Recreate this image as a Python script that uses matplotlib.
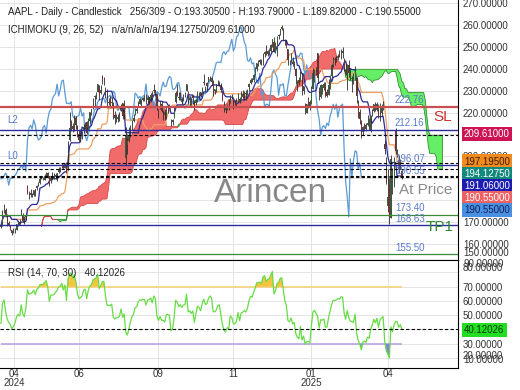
import numpy as np
import pandas as pd
import matplotlib
matplotlib.use('Agg')
import matplotlib.pyplot as plt
from matplotlib.ticker import FormatStrFormatter, FixedLocator

plt.rcParams['font.family'] = ['Liberation Sans', 'DejaVu Sans']

# AAPL daily bars, 2024-04-10 .. 2025-04-21 (one row per month)
opens = [
    168.8, 168.3, 174.3, 175.4, 171.8, 169.6, 168.0, 166.2, 165.5, 165.4, 166.5, 169.5, 169.9, 173.4, 173.3,
    169.6, 172.5, 186.6, 182.4, 183.5, 182.9, 182.6, 184.9, 185.4, 187.5, 187.9, 190.5, 189.5, 189.3, 191.1, 192.3, 191.0, 188.8, 191.5, 189.6, 190.8, 191.4,
    192.9, 194.6, 195.4, 195.7, 194.7, 196.9, 193.7, 207.4, 214.7, 213.9, 213.4, 217.6, 213.9, 210.4, 207.7, 209.2, 211.5, 214.7, 215.8,
    212.1, 216.2, 220.0, 221.7, 227.1, 227.9, 229.3, 231.4, 228.9, 236.5, 235.0, 229.5, 230.3, 224.8, 227.0, 224.4, 224.0, 218.9, 218.7, 217.0, 219.2, 221.4,
    224.4, 219.2, 199.1, 205.3, 206.9, 213.1, 212.1, 216.1, 219.0, 220.6, 224.6, 223.9, 225.7, 225.8, 226.5, 227.8, 225.7, 226.8, 226.0, 227.9, 230.1, 230.2,
    228.6, 221.7, 221.6, 224.0, 220.8, 218.9, 221.5, 222.5, 223.6, 216.5, 215.8, 217.6, 225.0, 230.0, 227.3, 228.6, 224.9, 227.3, 228.5, 230.0,
    229.5, 225.9, 225.1, 227.9, 224.5, 224.3, 225.2, 227.8, 229.3, 228.7, 233.6, 231.6, 233.4, 236.2, 234.5, 233.9, 234.1, 230.0, 229.7, 233.3, 233.1, 232.6, 229.3,
    221.0, 221.0, 221.8, 222.6, 224.6, 227.2, 225.0, 224.6, 224.0, 225.0, 226.4, 225.3, 227.0, 228.1, 228.9, 228.1, 231.5, 233.3, 234.5, 234.8,
    237.3, 239.8, 242.9, 244.0, 242.9, 241.8, 246.9, 248.0, 246.9, 247.8, 248.0, 250.1, 252.2, 247.5, 248.0, 254.8, 255.5, 258.2, 257.8, 252.2, 252.4,
    248.9, 243.4, 244.3, 243.0, 241.9, 240.0, 233.5, 234.8, 234.6, 237.4, 232.1, 224.0, 219.8, 224.7, 224.8, 224.0, 230.9, 234.1, 238.7, 247.2,
    230.0, 227.3, 228.5, 231.3, 232.6, 229.6, 228.2, 231.2, 236.9, 241.3, 244.2, 244.7, 244.9, 246.0, 244.9, 248.0, 244.3, 239.4, 237.0,
    241.8, 237.7, 235.4, 234.4, 235.1, 235.5, 223.8, 220.1, 216.0, 211.3, 213.3, 214.2, 214.2, 214.0, 211.6, 221.0, 220.8, 223.5, 221.4, 221.7, 217.0,
    219.8, 221.3, 205.5, 193.9, 177.2, 186.7, 172.0, 189.1, 186.1, 211.4, 201.9, 198.4, 197.2, 193.305,
]
highs = [
    169.1, 175.5, 178.4, 176.6, 173.8, 170.7, 168.6, 166.4, 167.3, 167.1, 169.3, 170.6, 171.3, 176.0, 174.0,
    172.7, 173.4, 187.0, 184.2, 184.9, 183.1, 184.7, 185.1, 187.1, 188.3, 190.7, 191.1, 190.8, 191.9, 192.7, 192.8, 191.0, 190.6, 193.0, 192.2, 192.2, 192.6,
    195.0, 195.3, 196.9, 196.5, 196.9, 197.3, 207.2, 220.2, 216.8, 215.2, 218.9, 218.6, 214.2, 211.9, 212.7, 211.4, 214.9, 215.7, 216.1,
    217.5, 220.4, 221.6, 226.5, 227.9, 229.4, 233.1, 232.4, 232.6, 237.2, 236.3, 231.5, 230.7, 226.8, 227.8, 226.9, 224.8, 220.9, 219.5, 219.3, 220.3, 223.8,
    224.5, 225.6, 213.5, 210.0, 213.6, 214.2, 216.8, 219.5, 221.9, 223.0, 225.4, 226.8, 226.0, 227.2, 228.0, 228.3, 228.2, 227.3, 228.9, 229.9, 232.9, 230.4,
    229.0, 221.8, 225.5, 225.2, 221.3, 221.5, 223.1, 223.6, 224.0, 217.2, 216.9, 222.7, 229.8, 233.1, 229.5, 229.4, 227.3, 228.5, 229.5, 233.0,
    229.7, 227.4, 226.8, 228.0, 225.7, 226.0, 229.8, 229.5, 229.4, 231.7, 237.5, 232.1, 233.9, 236.2, 236.9, 236.2, 235.1, 230.8, 233.2, 234.7, 234.3, 233.5, 229.8,
    225.4, 222.8, 224.0, 226.1, 227.9, 228.7, 225.7, 225.6, 226.7, 228.9, 226.9, 229.7, 230.2, 229.9, 230.2, 230.7, 233.3, 235.6, 235.7, 237.8,
    240.8, 242.8, 244.1, 244.5, 244.6, 247.2, 248.2, 250.8, 248.7, 249.3, 251.4, 253.8, 254.3, 252.0, 255.0, 255.7, 258.2, 260.1, 258.7, 253.5, 253.3,
    249.1, 244.2, 247.3, 245.6, 243.7, 240.2, 234.7, 236.1, 239.0, 238.0, 232.3, 224.4, 224.1, 227.0, 225.6, 232.2, 240.2, 239.9, 240.8, 247.2,
    231.8, 233.1, 232.7, 233.8, 234.0, 230.6, 235.2, 237.0, 242.3, 245.6, 245.2, 246.0, 246.8, 248.7, 248.9, 250.0, 245.0, 242.5, 242.1,
    244.0, 240.1, 236.6, 237.9, 241.4, 236.2, 225.8, 221.8, 216.8, 214.0, 215.2, 215.2, 218.8, 217.5, 218.8, 221.5, 224.1, 225.0, 225.0, 223.8, 224.5,
    223.7, 225.19, 207.5, 199.9, 194.2, 190.3, 200.6, 194.8, 199.5, 212.94, 203.5, 200.7, 198.8, 193.79,
]
lows = [
    167.1, 168.0, 174.2, 172.5, 168.3, 168.0, 166.6, 164.1, 164.8, 165.0, 166.2, 168.2, 169.2, 173.1, 170.0,
    169.1, 170.9, 182.7, 180.4, 181.3, 181.3, 182.1, 182.1, 184.7, 186.3, 187.4, 189.7, 189.2, 189.0, 190.9, 190.3, 186.6, 188.0, 189.1, 189.5, 189.9, 188.9,
    192.5, 193.0, 194.9, 194.2, 194.5, 192.2, 193.6, 206.9, 211.6, 211.3, 211.7, 212.7, 208.9, 207.1, 206.6, 207.9, 210.6, 212.4, 210.3,
    211.9, 215.1, 219.0, 221.7, 223.1, 226.4, 229.3, 225.8, 228.7, 233.1, 232.6, 226.6, 222.3, 223.3, 223.1, 222.7, 217.1, 214.6, 215.8, 215.8, 216.1, 220.6,
    217.0, 217.7, 196.0, 201.1, 206.4, 208.8, 212.0, 215.6, 219.0, 219.7, 223.0, 223.7, 223.0, 225.5, 225.1, 223.9, 224.3, 223.9, 224.9, 225.7, 228.9, 227.5,
    221.2, 217.5, 221.5, 220.4, 216.7, 216.7, 217.3, 219.8, 221.9, 213.9, 214.5, 217.5, 224.6, 227.6, 225.8, 225.9, 224.0, 225.4, 227.3, 229.7,
    223.7, 223.0, 223.3, 224.1, 221.3, 223.3, 224.8, 227.2, 227.3, 228.6, 232.4, 229.8, 230.5, 234.0, 234.5, 232.6, 227.8, 228.4, 229.6, 232.6, 232.3, 229.6, 225.4,
    220.3, 219.7, 221.1, 221.2, 224.6, 226.4, 221.5, 223.4, 222.8, 225.0, 224.3, 225.2, 226.7, 225.9, 225.7, 228.0, 229.7, 233.0, 233.8, 234.0,
    237.2, 238.9, 241.3, 242.1, 241.9, 241.8, 245.3, 246.3, 245.7, 246.2, 247.6, 249.8, 247.7, 247.1, 245.7, 253.5, 255.3, 257.6, 253.1, 250.8, 249.4,
    241.8, 241.9, 243.2, 241.4, 240.1, 233.0, 229.7, 232.5, 234.4, 228.0, 228.5, 219.4, 219.8, 222.3, 221.4, 224.0, 230.8, 234.0, 237.2, 233.4,
    225.7, 226.7, 228.3, 230.4, 227.3, 227.2, 228.1, 230.7, 235.6, 241.0, 241.8, 243.2, 244.1, 245.2, 244.4, 244.9, 239.1, 237.1, 230.2,
    236.1, 234.7, 229.2, 233.2, 234.7, 224.2, 217.5, 214.9, 208.4, 209.6, 211.5, 211.5, 213.8, 212.2, 211.3, 218.6, 220.1, 220.5, 220.6, 217.7, 216.2,
    218.5, 221.0, 201.3, 187.3, 174.6, 169.21, 171.9, 183.0, 186.1, 201.2, 199.8, 192.4, 194.4, 189.82,
]
closes = [
    167.8, 175.0, 176.6, 172.7, 169.4, 168.0, 167.0, 165.0, 165.8, 166.9, 169.0, 169.9, 169.3, 173.5, 170.3,
    169.3, 173.0, 183.4, 181.7, 182.4, 182.7, 184.6, 183.1, 186.3, 187.4, 189.7, 189.8, 189.9, 191.0, 192.4, 190.9, 186.9, 190.0, 190.0, 190.3, 191.3, 192.3,
    194.0, 194.4, 195.9, 194.5, 196.9, 193.1, 207.2, 213.1, 214.2, 212.5, 216.7, 214.3, 209.7, 207.5, 208.1, 209.1, 213.3, 214.1, 210.6,
    216.8, 220.3, 221.6, 226.3, 227.8, 228.7, 233.0, 227.6, 230.5, 234.4, 234.8, 228.9, 224.2, 224.3, 224.0, 225.0, 218.5, 217.5, 218.0, 218.2, 218.8, 222.1,
    218.4, 219.9, 209.3, 207.2, 209.8, 213.3, 216.2, 217.5, 221.3, 221.7, 224.7, 226.1, 225.9, 226.5, 226.4, 224.5, 226.8, 227.2, 228.0, 226.5, 229.8, 229.0,
    222.8, 220.9, 222.4, 220.8, 220.9, 220.1, 222.7, 222.8, 222.5, 216.3, 216.8, 220.7, 228.9, 228.2, 226.5, 227.4, 226.4, 227.5, 227.8, 233.0,
    226.2, 226.8, 225.7, 226.8, 221.7, 225.8, 229.5, 229.0, 227.6, 231.3, 233.9, 231.8, 232.2, 235.0, 236.5, 235.9, 230.8, 230.6, 231.4, 233.4, 233.7, 230.1, 225.9,
    222.9, 222.0, 223.5, 222.7, 227.5, 227.0, 224.2, 224.2, 225.1, 228.2, 225.0, 228.0, 228.3, 229.0, 228.5, 229.9, 232.9, 235.1, 234.9, 237.3,
    239.6, 242.7, 243.0, 243.0, 242.8, 246.8, 247.8, 246.5, 248.0, 248.1, 251.0, 253.5, 248.1, 249.8, 254.5, 255.3, 258.2, 259.0, 255.6, 252.2, 250.4,
    243.9, 243.4, 245.0, 242.2, 242.7, 236.9, 234.4, 233.3, 237.9, 228.3, 230.0, 222.6, 223.8, 223.7, 222.8, 229.9, 238.3, 239.4, 237.6, 236.0,
    228.0, 232.8, 232.5, 233.2, 227.6, 227.7, 232.6, 236.9, 241.5, 244.6, 244.5, 244.9, 245.8, 245.6, 247.1, 247.0, 240.4, 237.3, 241.8,
    238.0, 235.9, 235.7, 235.3, 239.1, 227.5, 220.8, 217.0, 209.7, 213.5, 214.0, 212.7, 215.2, 214.1, 218.3, 220.7, 223.8, 221.5, 223.9, 217.9, 222.1,
    223.2, 223.9, 203.2, 188.4, 181.5, 172.4, 198.9, 190.4, 198.2, 202.5, 202.1, 194.3, 197.0, 190.55,
]
# closes before the first bar, only used to warm up the RSI
warmup_closes = [181.2, 182.6, 181.4, 180.8, 179.7, 175.1, 170.1, 169.1, 169.0, 170.7,
                 172.8, 173.2, 171.1, 173.0, 172.6, 173.7, 176.1, 178.7, 171.4, 172.3,
                 170.9, 169.7, 173.3, 171.5, 170.0, 168.8, 169.7, 168.8, 169.6, 168.5, 169.7]

tick_labels = ['04\n2024', '06', '09', '11', '01\n2025', '04']
tick_bars = [8.3, 50, 100.6, 148.7, 198.7, 248]

level_values = [222.76, 212.16, 196.07, 190.55, 173.40, 168.63, 155.50]
level_colors = ['#c85050', '#2c2c9c', '#2c2c9c', None, '#3a8a3a', '#2c2c9c', '#3a8a3a']
level_widths = [1.6, 1.0, 1.0, 0, 0.9, 1.0, 0.9]

tag_values = [209.61, 197.195, 194.1275, 191.06, 190.55, 190.55]
tag_bg = ['#cc1455', '#f28a1e', '#12897a', '#1c1cb0', '#f06262', '#4a90e2']
tag_fg = ['white', '#3a1e00', 'white', 'white', 'white', '#10205a']
tag_y_px = [134, 161.5, 174, 186, 198, 210]

rsi_value = 40.12026

# ---- indicators
df = pd.DataFrame({'open': opens, 'high': highs, 'low': lows, 'close': closes})
n = len(df)
x = np.arange(n)
hi, lo = df['high'], df['low']


def mid(win):
    return (hi.rolling(win, min_periods=1).max() + lo.rolling(win, min_periods=1).min()) / 2


tenkan = mid(9)
kijun = mid(26)
span_a = ((tenkan + kijun) / 2).to_numpy()
span_b = mid(52).to_numpy()
x_span = x + 26

allc = pd.Series(warmup_closes + closes)
d = allc.diff()
gain = d.clip(lower=0).ewm(alpha=1 / 14, adjust=False).mean()
loss = (-d.clip(upper=0)).ewm(alpha=1 / 14, adjust=False).mean()
rsi = (100 - 100 / (1 + gain / loss)).to_numpy()[len(warmup_closes):]

# ---- figure
W, H = 520, 390
fig = plt.figure(figsize=(W / 100, H / 100), dpi=100)
ax = fig.add_axes([0, 130 / H, 458 / W, 260 / H])
ax2 = fig.add_axes([0, 22 / H, 458 / W, 108 / H], sharex=ax)


def fx(px):
    return px / W


def fy(py):
    return 1 - py / H


for a in (ax, ax2):
    a.spines['left'].set_visible(False)
    a.spines['right'].set_color('black')
    a.spines['bottom'].set_color('black')
    a.yaxis.tick_right()
    a.tick_params(axis='y', length=0, pad=3.5, labelsize=7, labelcolor='#333333')
    a.tick_params(axis='x', length=0)
    a.grid(True, color='#e4e4e4', lw=0.7)
    a.set_axisbelow(True)
    a.yaxis.set_major_formatter(FormatStrFormatter('%.5f'))
ax.spines['top'].set_visible(False)
ax2.spines['top'].set_color('black')

ax.set_xlim(-0.6, 293)
ax.set_ylim(152.7, 271.4)
ax.yaxis.set_major_locator(FixedLocator(np.arange(160, 271, 10)))
ax2.set_ylim(13, 88.7)
ax2.yaxis.set_major_locator(FixedLocator([20, 30, 40, 50, 60, 70, 80]))
ax2.yaxis.set_major_formatter(plt.FuncFormatter(
    lambda v, p: '' if v in (20, 80) else '%.5f' % v))
ax.xaxis.set_major_locator(FixedLocator(tick_bars))
ax2.set_xticks(tick_bars)
ax2.set_xticklabels(tick_labels, linespacing=0.95)
ax2.tick_params(axis='x', labelsize=7, pad=0.5, labelcolor='#333333')
plt.setp(ax.get_xticklabels(), visible=False)

# cloud
up = span_a >= span_b
ax.fill_between(x_span, span_a, span_b, where=up, interpolate=True,
                facecolor='#f26b6b', edgecolor='#d84848', lw=0.6, zorder=1)
ax.fill_between(x_span, span_a, span_b, where=~up, interpolate=True,
                facecolor='#66ee66', edgecolor='#2f8f2f', lw=0.6, zorder=1)

# ichimoku lines
ax.plot(x[:-26], df['close'].to_numpy()[26:], color='#5b9bd5', lw=0.9, zorder=2)
ax.plot(x, kijun, color='#f0a060', lw=0.9, zorder=2)
ax.plot(x, tenkan, color='#2b2b9b', lw=0.9, zorder=3)

# candles
o = df['open'].to_numpy()
c = df['close'].to_numpy()
rising = c >= o
ax.vlines(x, df['low'], df['high'], color='#2a2a2a', lw=0.6, zorder=4)
ax.bar(x[rising], (c - o)[rising], bottom=o[rising], width=0.6,
       color='#3b5e3b', lw=0, zorder=5)
ax.bar(x[~rising], (o - c)[~rising], bottom=c[~rising], width=0.6,
       color='#7a2e2e', lw=0, zorder=5)

# levels
for v, col, w in zip(level_values, level_colors, level_widths):
    if col:
        ax.axhline(v, color=col, lw=w, zorder=6)
    ax.text(395 / 458, v + 0.6, '%.2f' % v, transform=ax.get_yaxis_transform(),
            fontsize=7, color='#5a7ccf', va='bottom', ha='left', zorder=7)
for v in tag_values[:5]:
    ax.axhline(v, color='black', lw=0.8, ls=(0, (3, 2)), zorder=6)
ax.text(0.015, 216.6, 'L2', transform=ax.get_yaxis_transform(), fontsize=7,
        color='#5a7ccf', va='center')
ax.text(0.015, 200.4, 'L0', transform=ax.get_yaxis_transform(), fontsize=7,
        color='#5a7ccf', va='center')
ax.text(440 / 458, 149.5, 'TP2', transform=ax.get_yaxis_transform(), fontsize=11,
        color='#2e8b2e', ha='center', va='center', clip_on=True)

# rsi
ax2.plot(x, rsi, color='#66dd44', lw=0.9, zorder=3)
ax2.fill_between(x, rsi, 70, where=rsi > 70, interpolate=True, color='#f5c542', lw=0, zorder=2)
ax2.fill_between(x, rsi, 30, where=rsi < 30, interpolate=True, color='#8a80e0', lw=0, zorder=2)
ax2.hlines(70, 0, n - 1, color='#f5d37c', lw=1.2, zorder=1)
ax2.hlines(30, 0, n - 1, color='#b7a4e2', lw=1.2, zorder=1)
ax2.axhline(rsi_value, color='black', lw=0.8, ls=(0, (3, 2)), zorder=4)

# texts
fig.text(fx(8), fy(12), 'AAPL - Daily - Candlestick   256/309 - O:193.30500 - H:193.79000 - '
         'L:189.82000 - C:190.55000', fontsize=7, color='#222222', va='center')
fig.text(fx(8), fy(30), 'ICHIMOKU (9, 26, 52)   n/a/n/a/n/a/194.12750/209.61000',
         fontsize=7, color='#222222', va='center')
fig.text(fx(8), fy(273), 'RSI (14, 70, 30)   %.5f' % rsi_value, fontsize=7,
         color='#222222', va='center')
fig.text(fx(271), fy(193), 'Arincen', fontsize=24, color='#888888', ha='center', va='center')
fig.text(fx(443), fy(117), 'SL', fontsize=11, color='#d03030', ha='center', va='center')
fig.text(fx(426), fy(190), 'At Price', fontsize=11, color='#8a8a8a', ha='center', va='center')
fig.text(fx(440), fy(227), 'TP1', fontsize=11, color='#2e8b2e', ha='center', va='center')

for txt, py in [('150.00000', 253), ('90.00000', 264), ('80.00000', 268),
                ('20.00000', 356), ('10.00000', 360)]:
    fig.text(fx(463), fy(py), txt, fontsize=7, color='#333333', va='center')

for v, bg, fg, py in zip(tag_values, tag_bg, tag_fg, tag_y_px):
    fig.text(fx(464), fy(py), '%.5f' % v, fontsize=7, color=fg, va='center',
             bbox=dict(boxstyle='square,pad=0.22', fc=bg, ec='none'))
fig.text(fx(464), fy(330), '%.5f' % rsi_value, fontsize=7, color='#0a3a0a', va='center',
         bbox=dict(boxstyle='square,pad=0.22', fc='#22dd22', ec='none'))

fig.savefig('out.png', dpi=100)
